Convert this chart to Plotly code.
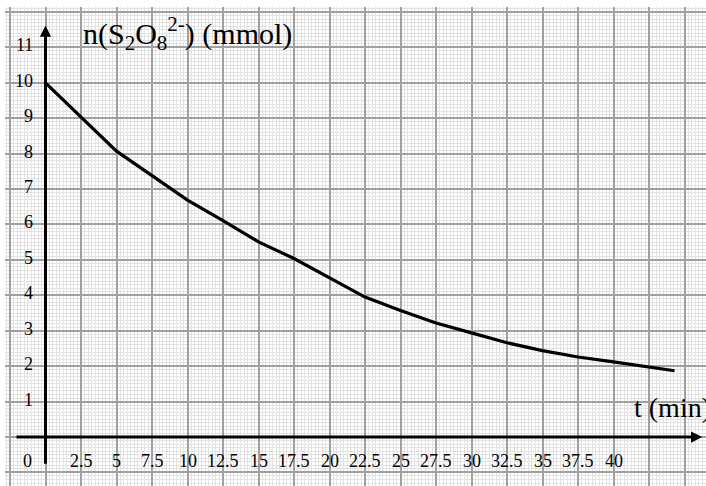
import plotly.graph_objects as go

# data
t_min = [0, 2.5, 5, 7.5, 10, 12.5, 15, 17.5, 20, 22.5, 25, 27.5, 30, 32.5, 35, 37.5, 40, 42.5, 44.3]
n_mmol = [10, 9.05, 8.07, 7.38, 6.69, 6.11, 5.51, 5.04, 4.5, 3.95, 3.57, 3.22, 2.94, 2.66, 2.44, 2.26, 2.12, 1.98, 1.87]

x_ticks = [2.5, 5, 7.5, 10, 12.5, 15, 17.5, 20, 22.5, 25, 27.5, 30, 32.5, 35, 37.5, 40]
x_tick_labels = ["2.5", "5", "7.5", "10", "12.5", "15", "17.5", "20", "22.5", "25", "27.5", "30", "32.5", "35", "37.5", "40"]
y_ticks = [1, 2, 3, 4, 5, 6, 7, 8, 9, 10, 11]
y_tick_labels = [str(v) for v in y_ticks]

X_RANGE = [-2.852, 46.514]
Y_RANGE = [-1.383, 12.14]
SERIF = "Liberation Serif, Times New Roman, serif"

fig = go.Figure()
fig.add_trace(go.Scatter(x=t_min, y=n_mmol, mode="lines",
                         line=dict(color="black", width=3.2), hoverinfo="skip"))

ann = []
# axis arrows
ann.append(dict(x=0, y=11.62, ax=0, ay=-0.8, xref="x", yref="y", axref="x", ayref="y",
                text="", showarrow=True, arrowhead=2, arrowwidth=3, arrowsize=0.75,
                arrowcolor="black", standoff=0, startstandoff=0))
ann.append(dict(x=46.25, y=0, ax=-2.15, ay=0, xref="x", yref="y", axref="x", ayref="y",
                text="", showarrow=True, arrowhead=2, arrowwidth=3, arrowsize=0.75,
                arrowcolor="black", standoff=0, startstandoff=0))
# tick labels
for v, lab in zip(x_ticks, x_tick_labels):
    ann.append(dict(x=v, y=0, xref="x", yref="y", text=lab, showarrow=False,
                    xanchor="center", yanchor="middle", yshift=-24,
                    font=dict(family=SERIF, size=18, color="black")))
for v, lab in zip(y_ticks, y_tick_labels):
    ann.append(dict(x=0, y=v, xref="x", yref="y", text=lab, showarrow=False,
                    xanchor="right", yanchor="middle", xshift=-11, yshift=2,
                    font=dict(family=SERIF, size=18, color="black")))
ann.append(dict(x=0, y=0, xref="x", yref="y", text="0", showarrow=False,
                xanchor="right", yanchor="middle", xshift=-12, yshift=-24,
                font=dict(family=SERIF, size=18, color="black")))
# axis titles
ann.append(dict(x=2.5, y=11.4, xref="x", yref="y",
                text="n(S<sub>2</sub>O<sub>8</sub><sup>2-</sup>) (mmol)", showarrow=False,
                xanchor="left", yanchor="middle",
                font=dict(family=SERIF, size=30, color="black")))
ann.append(dict(x=41.3, y=0.82, xref="x", yref="y", text="t (min)", showarrow=False,
                xanchor="left", yanchor="middle",
                font=dict(family=SERIF, size=28, color="black")))

fig.update_layout(
    width=706, height=486,
    margin=dict(l=5, r=0, t=7, b=0),
    paper_bgcolor="white", plot_bgcolor="white",
    showlegend=False,
    annotations=ann,
    xaxis=dict(range=X_RANGE, showgrid=True, dtick=2.5, tick0=0,
               gridcolor="#a0a0a0", gridwidth=1.6, zeroline=False,
               showticklabels=False, ticks="", showline=False,
               minor=dict(dtick=0.25, tick0=0, showgrid=True, gridcolor="#e2e2e2", gridwidth=1)),
    yaxis=dict(range=Y_RANGE, showgrid=True, dtick=1, tick0=0,
               gridcolor="#a0a0a0", gridwidth=1.6, zeroline=False,
               showticklabels=False, ticks="", showline=False,
               minor=dict(dtick=0.1, tick0=0, showgrid=True, gridcolor="#e2e2e2", gridwidth=1)),
)

fig.write_html("out.html", config={"displayModeBar": False},
               post_script="document.body.style.margin='0';document.body.style.overflow='hidden';")
